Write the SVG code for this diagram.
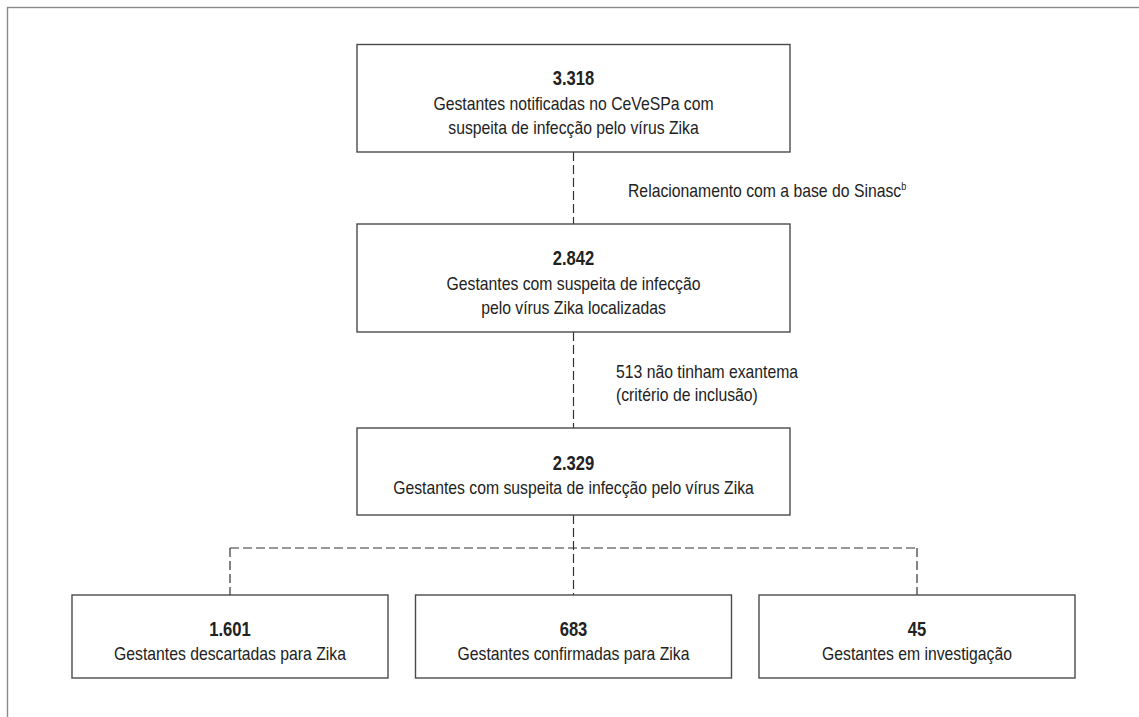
<svg xmlns="http://www.w3.org/2000/svg" width="1139" height="717" viewBox="0 0 1139 717">
<style>
.box{fill:#fff;stroke:#4a4a4a;stroke-width:1.4}
.frame{fill:none;stroke:#8a8a8a;stroke-width:1.4}
.c{fill:none;stroke:#333;stroke-width:1.2;stroke-dasharray:9 4}
text{font-family:"Liberation Sans",Arial,sans-serif;fill:#222;font-size:19px}
.n{font-weight:bold;font-size:20px}
.m{text-anchor:middle}
</style>
<rect class="frame" x="7.5" y="7.5" width="1200" height="800"/>
<g id="connectors">
<line class="c" x1="573.5" y1="152" x2="573.5" y2="224"/>
<line class="c" x1="573.5" y1="332" x2="573.5" y2="428"/>
<line class="c" x1="573.5" y1="515" x2="573.5" y2="595"/>
<line class="c" x1="230" y1="548" x2="917" y2="548"/>
<line class="c" x1="230" y1="548" x2="230" y2="595"/>
<line class="c" x1="917" y1="548" x2="917" y2="595"/>
</g>
<g id="label-sinasc"><text transform="translate(628,197) scale(0.83,1)">Relacionamento com a base do Sinasc<tspan font-size="11" dy="-7">b</tspan></text></g>
<g id="label-exantema">
<text transform="translate(616,378) scale(0.83,1)">513 não tinham exantema</text>
<text transform="translate(616,401) scale(0.83,1)">(critério de inclusão)</text>
</g>
<g id="n1">
<rect class="box" x="357" y="44.5" width="433" height="107.5"/>
<text class="n m" transform="translate(573.5,85) scale(0.83,1)">3.318</text>
<text class="m" transform="translate(573.5,110) scale(0.83,1)">Gestantes notificadas no CeVeSPa com</text>
<text class="m" transform="translate(573.5,134) scale(0.83,1)">suspeita de infecção pelo vírus Zika</text>
</g>
<g id="n2">
<rect class="box" x="357" y="224" width="433" height="108"/>
<text class="n m" transform="translate(573.5,265) scale(0.83,1)">2.842</text>
<text class="m" transform="translate(573.5,290) scale(0.83,1)">Gestantes com suspeita de infecção</text>
<text class="m" transform="translate(573.5,314) scale(0.83,1)">pelo vírus Zika localizadas</text>
</g>
<g id="n3">
<rect class="box" x="357" y="428" width="433" height="87"/>
<text class="n m" transform="translate(573.5,470) scale(0.83,1)">2.329</text>
<text class="m" transform="translate(573.5,494) scale(0.83,1)">Gestantes com suspeita de infecção pelo vírus Zika</text>
</g>
<g id="n4">
<rect class="box" x="72" y="595" width="316" height="83"/>
<text class="n m" transform="translate(230,636) scale(0.83,1)">1.601</text>
<text class="m" transform="translate(230,660) scale(0.83,1)">Gestantes descartadas para Zika</text>
</g>
<g id="n5">
<rect class="box" x="415.5" y="595" width="316" height="83"/>
<text class="n m" transform="translate(573.5,636) scale(0.83,1)">683</text>
<text class="m" transform="translate(573.5,660) scale(0.83,1)">Gestantes confirmadas para Zika</text>
</g>
<g id="n6">
<rect class="box" x="759" y="595" width="316" height="83"/>
<text class="n m" transform="translate(917,636) scale(0.83,1)">45</text>
<text class="m" transform="translate(917,660) scale(0.83,1)">Gestantes em investigação</text>
</g>
</svg>
